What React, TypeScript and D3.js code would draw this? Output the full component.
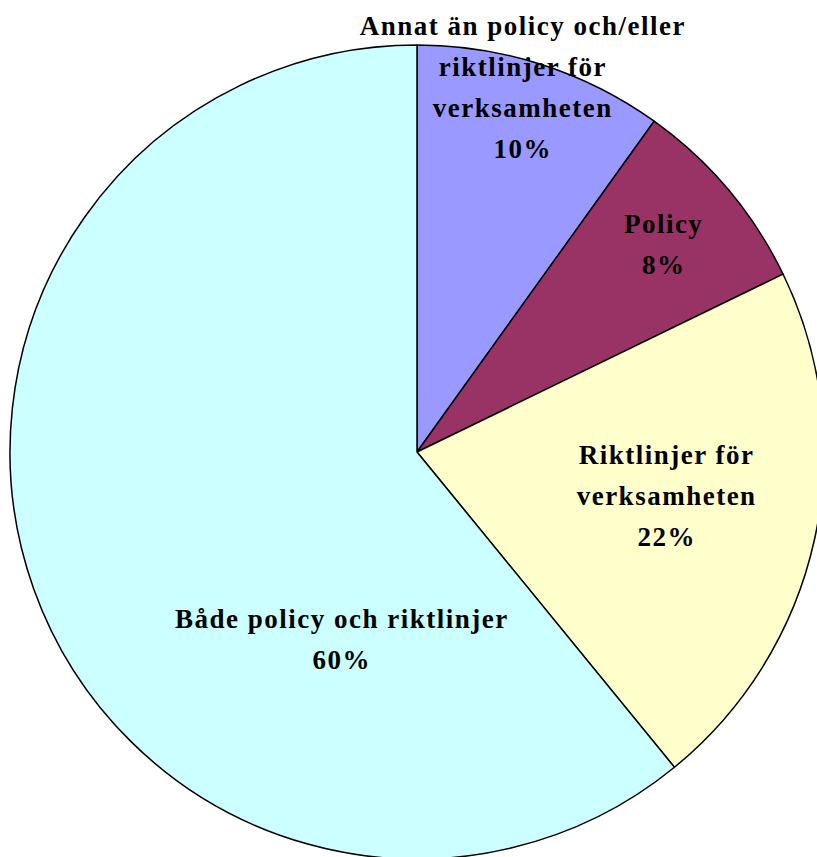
import React from 'react';
import * as d3 from 'd3';

// slice shares (angles), with the printed percentages
const categories = [
  'Annat än policy och/eller riktlinjer för verksamheten',
  'Policy',
  'Riktlinjer för verksamheten',
  'Både policy och riktlinjer',
];
const shares = [9.9, 7.9, 21.3, 60.9];
const percentLabels = ['10%', '8%', '22%', '60%'];
const labelLines = [
  ['Annat än policy och/eller', 'riktlinjer för', 'verksamheten'],
  ['Policy'],
  ['Riktlinjer för', 'verksamheten'],
  ['Både policy och riktlinjer'],
];

const colors = ['#9999FF', '#993366', '#FFFFCC', '#CCFFFF'];

// where Excel put each label: angle (deg, clockwise from 12 o'clock), fraction of radius
const labelPlacement = [
  { angle: 16.1, r: 0.931 },
  { angle: 49.8, r: 0.791 },
  { angle: 100.0, r: 0.621 },
  { angle: 202.0, r: 0.498 },
];

const W = 817;
const H = 857;
const cx = 417;
const cy = 452;
const radius = 407;
const lineHeight = 41;
const letterSp = 1.5;

const App = () => {
  const pie = d3.pie<number>().sort(null).value(d => d);
  const arcs = pie(shares);
  const arc = d3.arc<d3.PieArcDatum<number>>().innerRadius(0).outerRadius(radius);

  return (
    <div style={{ position: 'fixed', left: 0, top: 0, width: W, height: H, background: '#fff' }}>
      <svg width={W} height={H} style={{ display: 'block' }}>
        <g transform={`translate(${cx},${cy})`}>
          {arcs.map((a, i) => (
            <path
              key={categories[i]}
              d={arc(a) || ''}
              fill={colors[i]}
              stroke="#000"
              strokeWidth={1.5}
              strokeLinejoin="round"
            />
          ))}
          {arcs.map((a, i) => {
            const p = labelPlacement[i];
            const t = (p.angle * Math.PI) / 180;
            const lx = Math.sin(t) * p.r * radius + letterSp / 2;
            const ly = -Math.cos(t) * p.r * radius;
            const lines = [...labelLines[i], percentLabels[i]];
            const n = lines.length;
            return (
              <text
                key={'l' + i}
                textAnchor="middle"
                fontFamily="'Liberation Serif', 'Times New Roman', serif"
                fontWeight="bold"
                fontSize={27}
                letterSpacing={letterSp}
                fill="#000"
              >
                {lines.map((s, j) => (
                  <tspan key={j} x={lx} y={ly + (j - (n - 1) / 2) * lineHeight + 9}>
                    {s}
                  </tspan>
                ))}
              </text>
            );
          })}
        </g>
      </svg>
    </div>
  );
};

export default App;
